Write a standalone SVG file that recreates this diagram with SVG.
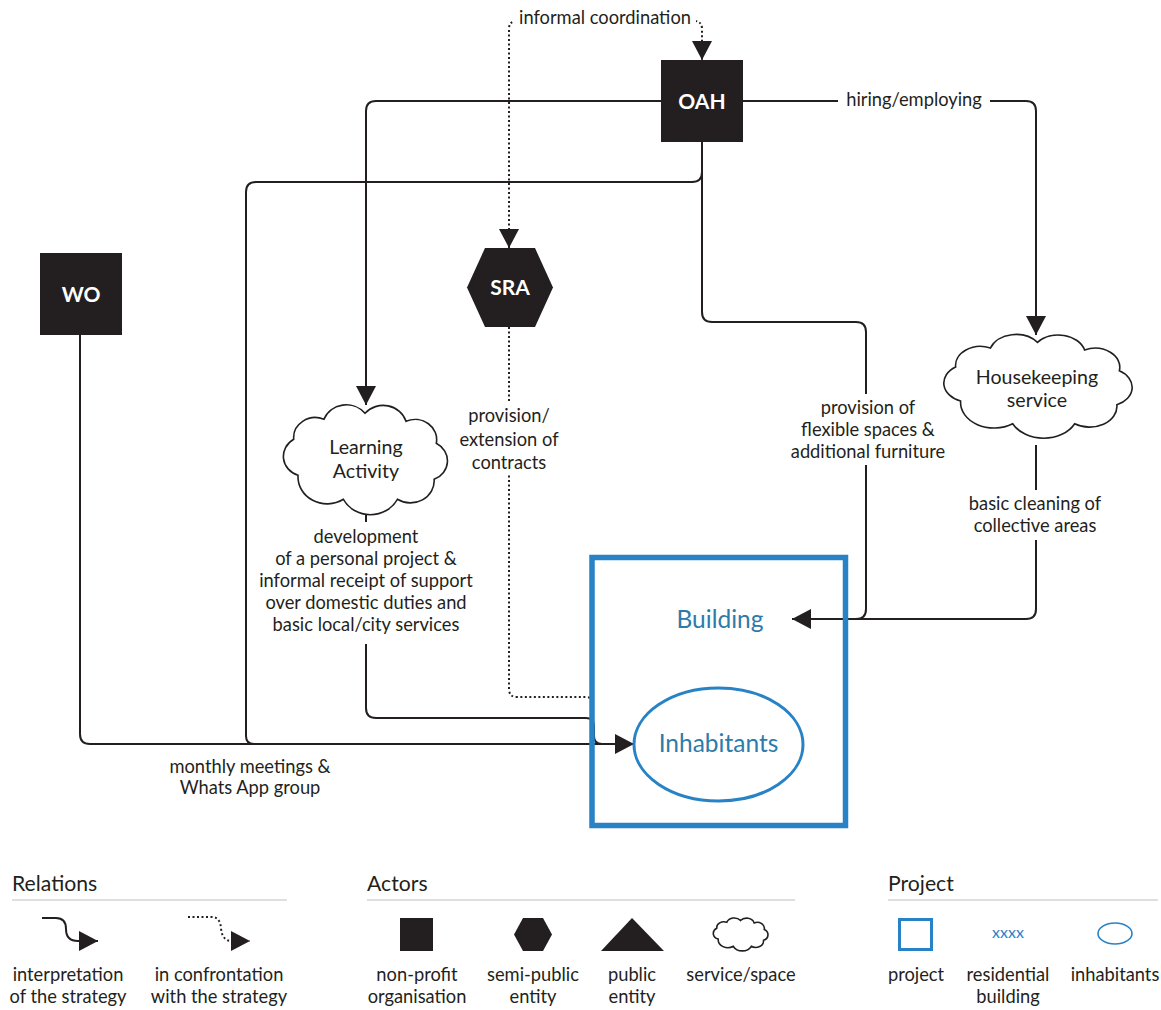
<svg xmlns="http://www.w3.org/2000/svg" xmlns:xlink="http://www.w3.org/1999/xlink" width="1161" height="1010" viewBox="0 0 1161 1010">
<style>
.ln{fill:none;stroke:#231f20;stroke-width:2}
.dot{fill:none;stroke:#231f20;stroke-width:2;stroke-dasharray:2 2.5}
.lbl{font-family:Lato,"Liberation Sans",sans-serif;font-size:18.3px;fill:#231f20;text-anchor:middle}
.nodeT{font-family:Lato,"Liberation Sans",sans-serif;font-size:21px;font-weight:bold;fill:#fff;text-anchor:middle}
.cloudT{font-family:Lato,"Liberation Sans",sans-serif;font-size:19.6px;fill:#231f20;text-anchor:middle}
.blueT{font-family:Lato,"Liberation Sans",sans-serif;font-size:24.5px;fill:#2d7bab;text-anchor:middle}
.legH{font-family:Lato,"Liberation Sans",sans-serif;font-size:21.2px;fill:#231f20}
.legT{font-family:Lato,"Liberation Sans",sans-serif;font-size:18.3px;fill:#231f20;text-anchor:middle}
.bg{fill:#fff}
.blk{fill:#231f20}
.cl{fill:#fff;stroke:#231f20;stroke-width:1.6;vector-effect:non-scaling-stroke}
</style>
<defs>
<marker id="arr" viewBox="0 0 20 20" refX="20" refY="10" markerWidth="20" markerHeight="20" markerUnits="userSpaceOnUse" orient="auto-start-reverse">
<path d="M1,0 L20,10 L1,20 Z" fill="#231f20"/>
</marker>
<path id="cloud" class="cl" d="M-62,18 A20,20 0 0 1 -66,-18 A20,20 0 0 1 -38,-38 A22,22 0 0 1 0,-44 A22,22 0 0 1 38,-36 A20,20 0 0 1 66,-14 A20,20 0 0 1 64,22 A22,22 0 0 1 30,42 A28,28 0 0 1 -20,42 A27,27 0 0 1 -62,18 Z"/>
</defs>
<rect width="1161" height="1010" fill="#fff"/>

<g id="connectors">
<path class="ln" d="M661,101 H376 Q366,101 366,111 V405" marker-end="url(#arr)"/>
<path class="ln" d="M743,101 H1026 Q1036,101 1036,111 V335" marker-end="url(#arr)"/>
<path class="ln" d="M1036,445 V609 Q1036,619 1026,619 H792" marker-end="url(#arr)"/>
<path class="ln" d="M702,142 V312 Q702,322 712,322 H856 Q866,322 866,332 V609 Q866,619 856,619 H810"/>
<path class="ln" d="M702,142 V172 Q702,182 692,182 H256 Q246,182 246,192 V736 Q246,744 254,744 H400"/>
<path class="ln" d="M80,335 V734 Q80,744 90,744 H634" marker-end="url(#arr)"/>
<path class="ln" d="M366,515 V708 Q366,718 376,718 H586 Q594,718 594,726 V736 Q594,744 602,744 H620"/>
<path class="dot" d="M509,248 V29 Q509,21 517,21 H694 Q702,21 702,29 V60" marker-start="url(#arr)" marker-end="url(#arr)"/>
<path class="dot" d="M509,327 V689 Q509,697 517,697 H586 Q591,697 592,701"/>

<rect class="bg" x="514" y="8" width="182" height="22"/>
<text class="lbl" x="605" y="24">informal coordination</text>
<rect class="bg" x="838" y="90" width="152" height="22"/>
<text class="lbl" x="914" y="106">hiring/employing</text>
<rect class="bg" x="452" y="403" width="116" height="72"/>
<text class="lbl" x="509" y="422">provision/</text>
<text class="lbl" x="509" y="446">extension of</text>
<text class="lbl" x="509" y="469">contracts</text>
<rect class="bg" x="784" y="394" width="168" height="71"/>
<text class="lbl" x="868" y="414">provision of</text>
<text class="lbl" x="868" y="436">flexible spaces &amp;</text>
<text class="lbl" x="868" y="458">additional furniture</text>
<rect class="bg" x="962" y="490" width="146" height="50"/>
<text class="lbl" x="1035" y="510">basic cleaning of</text>
<text class="lbl" x="1035" y="532">collective areas</text>
<rect class="bg" x="252" y="522" width="229" height="122"/>
<text class="lbl" x="366" y="543">development</text>
<text class="lbl" x="366" y="565">of a personal project &amp;</text>
<text class="lbl" x="366" y="587">informal receipt of support</text>
<text class="lbl" x="366" y="609">over domestic duties and</text>
<text class="lbl" x="366" y="631">basic local/city services</text>
<text class="lbl" x="250" y="773">monthly meetings &amp;</text>
<text class="lbl" x="250" y="794">Whats App group</text>
</g>

<g id="node-OAH">
<rect class="blk" x="661" y="60" width="82" height="82"/>
<text class="nodeT" x="702" y="109">OAH</text>
</g>
<g id="node-WO">
<rect class="blk" x="40" y="253" width="82" height="82"/>
<text class="nodeT" x="81" y="302">WO</text>
</g>
<g id="node-SRA">
<polygon class="blk" points="485,248 535,248 553,287.5 535,327 485,327 467,287.5"/>
<text class="nodeT" x="510" y="295">SRA</text>
</g>
<g id="node-learning">
<use xlink:href="#cloud" href="#cloud" transform="translate(365,457.3) scale(1.08,1)"/>
<text class="cloudT" x="366" y="454">Learning</text>
<text class="cloudT" x="366" y="478">Activity</text>
</g>
<g id="node-housekeeping">
<use xlink:href="#cloud" href="#cloud" transform="translate(1037.5,384) scale(1.24,0.945)"/>
<text class="cloudT" x="1037" y="384">Housekeeping</text>
<text class="cloudT" x="1037" y="407">service</text>
</g>
<g id="node-building">
<rect x="592" y="557.5" width="253.5" height="268" fill="none" stroke="#2882c6" stroke-width="5.5"/>
<text class="blueT" x="720" y="628">Building</text>
</g>
<g id="node-inhabitants">
<ellipse cx="718.5" cy="744.5" rx="84.5" ry="56.5" fill="#fff" stroke="#2882c6" stroke-width="3"/>
<text class="blueT" x="718.5" y="752">Inhabitants</text>
</g>

<g id="legend">
<text class="legH" x="12" y="891">Relations</text>
<line x1="12" y1="900" x2="287" y2="900" stroke="#d4d4d4" stroke-width="1.5"/>
<path class="ln" d="M42,918 H56 Q66,918 66,929 Q66,941 78,941 H98" marker-end="url(#arr)"/>
<path class="dot" d="M188,917 H212 Q220,917 221,928 Q222,941 232,941 H250" marker-end="url(#arr)"/>
<text class="legT" x="68" y="981">interpretation</text>
<text class="legT" x="68" y="1003">of the strategy</text>
<text class="legT" x="219" y="981">in confrontation</text>
<text class="legT" x="219" y="1003">with the strategy</text>

<text class="legH" x="367" y="891">Actors</text>
<line x1="367" y1="900" x2="795" y2="900" stroke="#d4d4d4" stroke-width="1.5"/>
<rect class="blk" x="400" y="918" width="33" height="33"/>
<polygon class="blk" points="523,918 543,918 552,934.5 543,951 523,951 514,934.5"/>
<polygon class="blk" points="601,951 632,918 664,951"/>
<use xlink:href="#cloud" href="#cloud" transform="translate(740.5,933.7) scale(0.36,0.3)"/>
<text class="legT" x="417" y="981">non-profit</text>
<text class="legT" x="417" y="1003">organisation</text>
<text class="legT" x="533" y="981">semi-public</text>
<text class="legT" x="533" y="1003">entity</text>
<text class="legT" x="632" y="981">public</text>
<text class="legT" x="632" y="1003">entity</text>
<text class="legT" x="741" y="981">service/space</text>

<text class="legH" x="888" y="891">Project</text>
<line x1="888" y1="900" x2="1158" y2="900" stroke="#d4d4d4" stroke-width="1.5"/>
<rect x="899.5" y="919.5" width="32" height="30" fill="none" stroke="#2882c6" stroke-width="3"/>
<text x="1008" y="938" font-family="Lato,'Liberation Sans',sans-serif" font-size="16px" fill="#2a7fc4" text-anchor="middle">xxxx</text>
<ellipse cx="1115" cy="933.5" rx="17" ry="10.5" fill="none" stroke="#2882c6" stroke-width="1.6"/>
<text class="legT" x="916" y="981">project</text>
<text class="legT" x="1008" y="981">residential</text>
<text class="legT" x="1008" y="1003">building</text>
<text class="legT" x="1115" y="981">inhabitants</text>
</g>
</svg>
